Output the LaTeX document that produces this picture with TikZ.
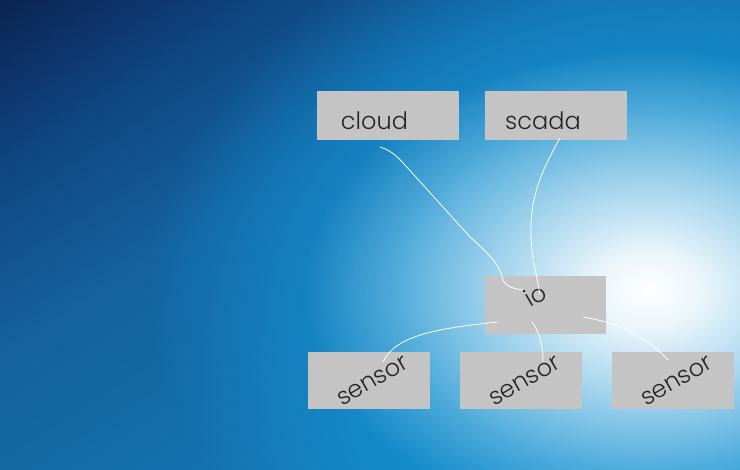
\documentclass[tikz,border=0pt]{standalone}
\usepackage{fontspec}
\setmainfont{Poppins Light}
\usetikzlibrary{fadings}
\definecolor{boxgray}{HTML}{C4C4C4}
\definecolor{bgA}{HTML}{0B2352}
\definecolor{bgB}{HTML}{0F4682}
\definecolor{bgC}{HTML}{1462A0}
\definecolor{bgD}{HTML}{1468A4}
\definecolor{bgE}{HTML}{147AB6}
\definecolor{bgF}{HTML}{1888C8}
\definecolor{glowblue}{HTML}{1594D4}
\pgfdeclarehorizontalshading{bgshade}{100bp}{color(0bp)=(bgA); color(25bp)=(bgA); color(34bp)=(bgB); color(44bp)=(bgC); color(50bp)=(bgD); color(62bp)=(bgE); color(75bp)=(bgF); color(100bp)=(bgF)}
\pgfdeclareradialshading{glowshade}{\pgfpoint{0bp}{0bp}}{color(0bp)=(white); color(3bp)=(white!92!black); color(9bp)=(white!60!black); color(15bp)=(white!24!black); color(20bp)=(black); color(50bp)=(black)}
\pgfdeclarefading{glow}{\pgfuseshading{glowshade}}
\pgfdeclareradialshading{blueshade}{\pgfpoint{0bp}{0bp}}{color(0bp)=(white); color(10bp)=(white!90!black); color(16bp)=(white!52!black); color(22bp)=(black); color(50bp)=(black)}
\pgfdeclarefading{bluefade}{\pgfuseshading{blueshade}}
\tikzset{
  box/.style={fill=boxgray, draw=none},
  lbl/.style={font=\fontsize{24}{28}\selectfont, text=black!85, inner sep=0pt},
  wire/.style={draw=white, line width=0.8pt}
}
\begin{document}
\begin{tikzpicture}[x=1pt,y=-1pt]
\useasboundingbox (0,0) rectangle (740,470);
% background
\begin{scope}
\clip (0,0) rectangle (740,470);
\begin{scope}[transform canvas={shift={(370,235)}, rotate=-57.6}]
\shade[shading=bgshade] (-397,-440) rectangle (397,440);
\end{scope}
\fill[glowblue, path fading=bluefade] (648,290) ellipse [x radius=570pt, y radius=430pt];
\fill[white, path fading=glow] (648,290) ellipse [x radius=430pt, y radius=300pt];
\end{scope}
% boxes
\fill[box] (317,91) rectangle (459,140);
\fill[box] (485,91) rectangle (627,140);
\fill[box] (485,276) rectangle (606,334);
\fill[box] (308,352) rectangle (430,409);
\fill[box] (460,352) rectangle (582,409);
\fill[box] (612,352) rectangle (734,409);
% labels
\node[lbl, anchor=base] (cloud) at (374.5,130) {cloud};
\node[lbl, anchor=base] (scada) at (543,130) {scada};
\node[lbl, rotate=30] (io) at (535,295) {io};
\node[lbl, rotate=30] (s1) at (373,381) {sensor};
\node[lbl, rotate=30] (s2) at (525,381) {sensor};
\node[lbl, rotate=30] (s3) at (677,381) {sensor};
% wire end points
\coordinate (c1) at (380,147);
\coordinate (c2) at (523,290);
\coordinate (d1) at (560,138);
\coordinate (d2) at (540,295);
\coordinate (e1) at (498,322);
\coordinate (e2) at (383,362);
\coordinate (f1) at (532,322);
\coordinate (f2) at (543,362);
\coordinate (g1) at (583,317);
\coordinate (g2) at (668,360);
% wires
\draw[wire] (c1) .. controls (390,150) and (397,156) .. (405,165) -- (470,237) .. controls (490,255) and (500,265) .. (503,280) .. controls (506,287) and (515,289) .. (c2);
\draw[wire] (d1) .. controls (545,165) and (532,190) .. (531,225) .. controls (530,255) and (537,275) .. (d2);
\draw[wire] (e1) .. controls (440,328) and (395,335) .. (e2);
\draw[wire] (f1) .. controls (540,333) and (543,345) .. (f2);
\draw[wire] (g1) .. controls (615,322) and (645,335) .. (g2);
\end{tikzpicture}
\end{document}
